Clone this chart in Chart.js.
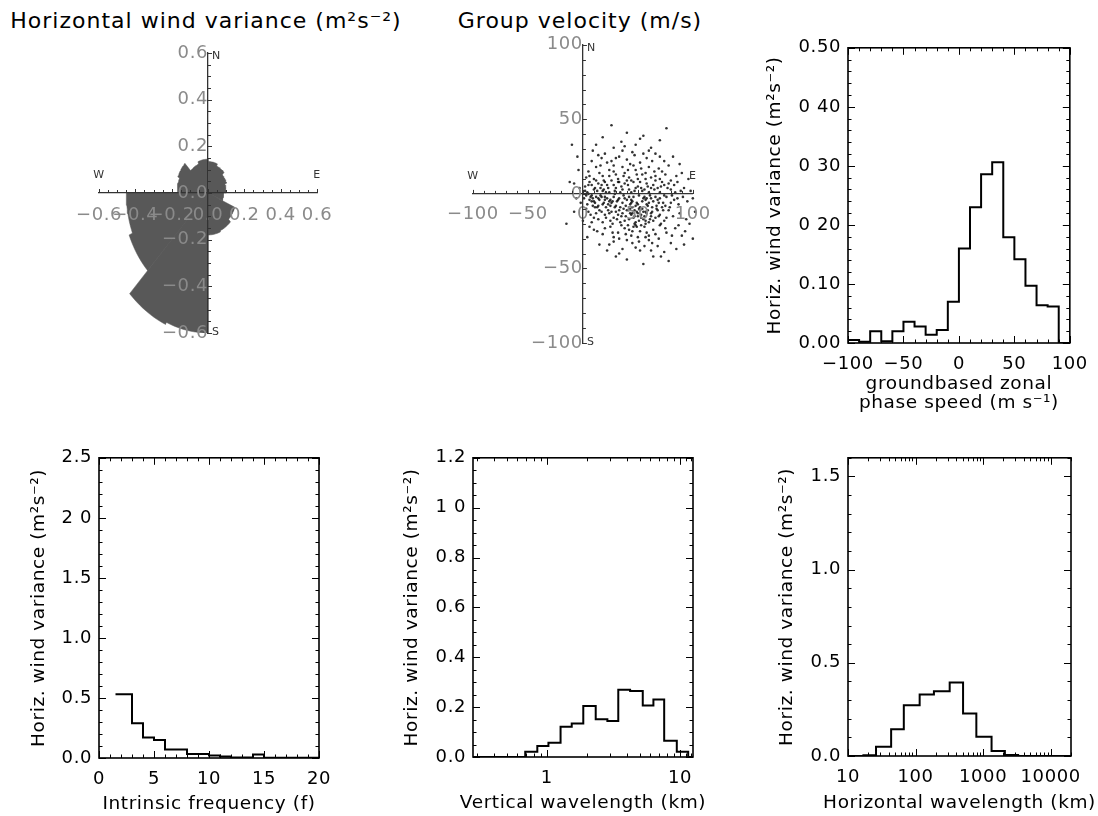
<!DOCTYPE html>
<html>
<head>
<meta charset="utf-8">
<script src="https://cdn.jsdelivr.net/npm/chart.js@4.4.1/dist/chart.umd.min.js"></script>
<style>
  body { margin: 0; background: #fff; }
  #page { position: relative; width: 1098px; height: 816px; overflow: hidden; font-family: 'DejaVu Sans', sans-serif; }
  .panel { position: absolute; }
  .title { position: absolute; font-size: 22px; letter-spacing: 1px; white-space: nowrap; transform: translate(-50%, -50%); color: #000; }
</style>
</head>
<body>
<div id="page">
  <div class="title" style="left:206px;top:20px">Horizontal wind variance (m²s⁻²)</div>
  <div class="title" style="left:580px;top:20px">Group velocity (m/s)</div>
  <div class="panel" style="left:0;top:30px;width:370px;height:330px"><canvas id="rose"></canvas></div>
  <div class="panel" style="left:370px;top:30px;width:350px;height:330px"><canvas id="groupVel"></canvas></div>
  <div class="panel" style="left:720px;top:30px;width:378px;height:400px"><canvas id="phase"></canvas></div>
  <div class="panel" style="left:0;top:440px;width:370px;height:376px"><canvas id="freq"></canvas></div>
  <div class="panel" style="left:370px;top:440px;width:370px;height:376px"><canvas id="vertWl"></canvas></div>
  <div class="panel" style="left:730px;top:440px;width:368px;height:376px"><canvas id="horWl"></canvas></div>
</div>
<script>
// --- horizontal wind variance by direction (sector start bearing, clockwise from N)
const roseStart = [0, 22.5, 45, 67.5, 90, 112.5, 135, 157.5, 180, 202.5, 225, 247.5, 270, 292.5, 315, 337.5];
const roseVariance = [0.135, 0.125, 0.11, 0.10, 0.085, 0.16, 0.175, 0.18, 0.60, 0.61, 0.47, 0.45, 0.17, 0.18, 0.135, 0.145];
const roseTicks = [-0.6, -0.4, -0.2, 0, 0.2, 0.4, 0.6];
const roseLabels = ['\u22120.6', '\u22120.4', '\u22120.2', '0.0', '0.2', '0.4', '0.6'];

// --- group velocity, [east, north] m/s
const groupVel = [
  [26,46],[76,44],[40,41],[18,38],[55,39],[-10,33],[35,35],[48,33],[62,31],[28,31],[70,36],[12,33],[52,37],
  [20,27],[33,25],[45,28],[58,24],[66,27],[8,22],[26,22],[40,23],[52,21],[74,22],[14,26],[82,25],[60,29],[36,29],
  [5,15],[12,18],[18,12],[24,16],[30,13],[36,18],[42,11],[48,16],[54,13],[60,18],[66,12],[72,15],[78,19],[85,12],
  [3,11],[16,19],[28,19],[38,14],[46,19],[57,10],[69,17],[90,14],[-4,16],[32,10],[50,10],
  [2,5],[6,8],[10,3],[14,7],[18,2],[22,6],[26,9],[30,4],[34,1],[38,7],[42,3],[46,8],[50,5],[54,2],[58,7],[62,4],
  [66,9],[70,1],[74,6],[80,3],[86,8],[92,4],[98,2],[4,1],[8,6],[12,9],[16,4],[20,8],[24,1],[28,6],[32,8],[36,3],
  [40,9],[44,1],[48,4],[52,8],[56,3],[60,1],[64,6],[68,4],[72,8],[78,7],[84,1],[-3,4],[-8,7],[104,3],
  [1,-3],[4,-7],[7,-2],[10,-5],[13,-9],[16,-1],[19,-6],[22,-3],[25,-8],[28,-2],[31,-5],[34,-9],[37,-1],[40,-4],
  [43,-7],[46,-2],[49,-6],[52,-9],[55,-3],[58,-7],[61,-1],[64,-5],[67,-8],[70,-3],[73,-6],[76,-2],[79,-9],[83,-4],
  [87,-7],[91,-2],[95,-5],[3,-1],[9,-8],[15,-4],[21,-9],[27,-5],[33,-3],[39,-8],[45,-5],[51,-1],[57,-4],[63,-9],
  [69,-6],[75,-8],[81,-1],[-2,-6],[6,-4],[12,-2],[18,-7],[24,-5],[30,-8],[36,-6],[42,-2],[48,-8],[54,-5],[60,-6],
  [66,-2],[72,-9],[100,-3],
  [5,-12],[10,-16],[15,-11],[20,-14],[25,-18],[30,-12],[35,-15],[40,-11],[42,-17],[45,-13],[48,-19],[50,-15],
  [52,-11],[55,-17],[58,-13],[60,-19],[63,-12],[66,-16],[70,-14],[74,-18],[78,-11],[82,-15],[88,-13],[94,-17],
  [8,-19],[18,-19],[28,-16],[38,-18],[44,-14],[47,-11],[53,-14],[57,-18],[62,-15],[68,-11],[33,-11],[12,-13],[23,-11],
  [46,-16],[49,-12],[51,-18],[54,-10],[56,-15],[59,-11],[61,-17],[43,-10],[47,-20],[53,-21],[57,-12],[50,-13],
  [44,-6],[58,-3],[26,-12],[20,-4],[14,-8],[8,-1],[31,-17],[36,-13],
  [5,0],[9,-3],[13,2],[17,-2],[21,1],[25,-4],[29,0],[11,-6],[19,3],[23,-7],
  [10,-24],[18,-27],[25,-22],[32,-26],[38,-23],[44,-28],[48,-21],[52,-25],[56,-22],[60,-28],[64,-24],[70,-21],
  [76,-26],[84,-23],[90,-28],[4,-29],[42,-24],[50,-29],[58,-26],[46,-22],[66,-27],[28,-29],[35,-21],
  [15,-34],[28,-32],[36,-37],[45,-33],[52,-38],[60,-31],[68,-35],[80,-33],[40,-31],[56,-35],[22,-38],[74,-39],
  [40,-44],[55,-47],[78,-45],[30,-42],[64,-42],
  [120,-1],[-15,-20],[100,-30],[-5,25],
  [3,-10],[7,-14],[11,-9],[14,-17],[17,-12],[21,-16],[24,-13],[27,-20],[29,-9],[32,-14],[34,-19],[37,-10],
  [39,-15],[41,-21],[43,-13],[45,-9],[47,-15],[49,-22],[51,-10],[53,-16],[55,-12],[57,-20],[59,-8],[62,-13],
  [64,-18],[67,-10],[69,-15],[71,-20],[73,-11],[76,-16],
  [2,2],[5,6],[8,-5],[11,4],[14,-3],[17,6],[20,-2],[23,4],[26,-6],[29,2],[32,-4],[35,5],[38,-3],[41,6],[44,-4],
  [47,2],[50,-7],[53,4],[56,-2],[59,5],[62,-3],[65,3],[68,-4],[71,5],[74,-1],[77,4],[80,-6],[83,6],[86,-3],[89,2],
  [6,12],[10,10],[15,14],[19,9],[24,12],[28,15],[33,8],[37,12],[41,16],[44,9],[49,13],[53,17],[57,14],[62,11],
  [65,15],[70,10],[75,13],[80,9],[22,21],[30,24],[43,20],[55,27],[63,22],[70,25],[38,32],[47,26],[17,24],[9,29],
  [0,-18],[6,-22],[13,-25],[20,-23],[27,-26],[33,-30],[39,-27],[45,-25],[51,-32],[57,-29],[63,-33],[69,-30],
  [75,-23],[81,-28],[87,-21],[93,-25],[24,-34],[48,-36],[62,-38],[71,-42],[33,-40],[85,-37],
  [-6,-3],[-12,8],[-8,-12],[96,10],[102,-12],[97,-20],[88,20],[92,-34]
];
const gvTicks = [-100, -50, 0, 50, 100];
const gvLabels = ['\u2212100', '\u221250', '0', '50', '100'];

// --- groundbased zonal phase speed histogram (bin edges, variance per bin)
const phaseEdges = [-100, -90, -80, -70, -60, -50, -40, -30, -20, -10, 0, 10, 20, 30, 40, 50, 60, 70, 80, 90, 100];
const phaseVar = [0.005, 0.002, 0.02, 0.003, 0.02, 0.036, 0.028, 0.014, 0.022, 0.07, 0.16, 0.23, 0.286, 0.306, 0.179, 0.142, 0.097, 0.064, 0.062, 0];
const phaseXTicks = [-100, -50, 0, 50, 100];
const phaseXLabels = ['\u2212100', '\u221250', '0', '50', '100'];
const phaseYTicks = [0, 0.1, 0.2, 0.3, 0.4, 0.5];
const phaseYLabels = ['0.00', '0.10', '0 20', '0 30', '0 40', '0.50'];

// --- intrinsic frequency histogram
const freqEdges = [1.5, 3, 4, 5, 6, 8, 10, 11, 12, 14, 15, 20];
const freqVar = [0.53, 0.29, 0.17, 0.15, 0.07, 0.033, 0.02, 0.012, 0.004, 0.03, 0.002];
const freqXTicks = [0, 5, 10, 15, 20];
const freqXLabels = ['0', '5', '10', '15', '20'];
const freqYTicks = [0, 0.5, 1, 1.5, 2, 2.5];
const freqYLabels = ['0.0', '0.5', '1.0', '1.5', '2 0', '2.5'];

// --- vertical wavelength histogram (km)
const vwEdges = [0.28, 0.69, 0.85, 1.03, 1.27, 1.54, 1.88, 2.33, 2.85, 3.44, 4.22, 5.25, 6.31, 7.6, 9.45, 11.5, 12.5];
const vwVar = [0, 0.021, 0.044, 0.057, 0.121, 0.134, 0.205, 0.151, 0.144, 0.27, 0.265, 0.207, 0.231, 0.065, 0.021, 0];
const vwXTicks = [1, 10];
const vwXLabels = ['1', '10'];
const vwYTicks = [0, 0.2, 0.4, 0.6, 0.8, 1.0, 1.2];
const vwYLabels = ['0.0', '0.2', '0.4', '0.6', '0.8', '1 0', '1.2'];

// --- horizontal wavelength histogram (km)
const hwEdges = [10, 16.9, 26, 43.5, 67, 115, 187, 320, 505, 794, 1334, 2100, 3300, 20000];
const hwVar = [0, 0.004, 0.05, 0.144, 0.272, 0.33, 0.348, 0.395, 0.228, 0.103, 0.027, 0.005, 0];
const hwXTicks = [10, 100, 1000, 10000];
const hwXLabels = ['10', '100', '1000', '10000'];
const hwYTicks = [0, 0.5, 1.0, 1.5];
const hwYLabels = ['0.0', '0.5', '1.0', '1.5'];

const varTitle = 'Horiz. wind variance (m\u00b2s\u207b\u00b2)';

Chart.defaults.font.family = "'DejaVu Sans', sans-serif";
Chart.defaults.color = '#000';
Chart.defaults.animation = false;

function steps(a, b, d) {
  const out = [];
  for (let v = a; v <= b + d / 1000; v += d) out.push(Math.round(v / d) * d);
  return out;
}
function logMinor(lo, hi) {
  const out = [];
  for (let p = lo; p < hi; p *= 10) for (let m = 2; m <= 9; m++) out.push(p * m);
  return out;
}

// IDL style tick marks: inward on all four sides ('box') or on the centre axes ('cross')
const idlTicks = {
  id: 'idlTicks',
  beforeDraw(chart) {
    chart.ctx.letterSpacing = '0.6px';
  },
  afterDraw(chart, args, o) {
    if (!o.mode) return;
    const {ctx, chartArea: a, scales: {x, y}} = chart;
    ctx.save();
    ctx.strokeStyle = o.color || '#000';
    ctx.lineWidth = 1;
    const inX = v => v >= x.min - 1e-9 && v <= x.max + 1e-9;
    const inY = v => v >= y.min - 1e-9 && v <= y.max + 1e-9;
    ctx.beginPath();
    if (o.mode === 'box') {
      [[o.xMajor, o.major], [o.xMinor, o.minor]].forEach(([vals, len]) => vals.filter(inX).forEach(v => {
        const px = Math.round(x.getPixelForValue(v)) + 0.5;
        ctx.moveTo(px, a.bottom); ctx.lineTo(px, a.bottom - len);
        ctx.moveTo(px, a.top); ctx.lineTo(px, a.top + len);
      }));
      [[o.yMajor, o.major], [o.yMinor, o.minor]].forEach(([vals, len]) => vals.filter(inY).forEach(v => {
        const py = Math.round(y.getPixelForValue(v)) + 0.5;
        ctx.moveTo(a.left, py); ctx.lineTo(a.left + len, py);
        ctx.moveTo(a.right, py); ctx.lineTo(a.right - len, py);
      }));
      ctx.stroke();
      ctx.lineWidth = 1.6;
      ctx.strokeRect(a.left, a.top, a.right - a.left, a.bottom - a.top);
      // x title, allowed to run wider than the plot box
      const lines = [].concat(o.xTitle);
      ctx.fillStyle = '#000';
      ctx.font = "18.5px 'DejaVu Sans'";
      ctx.textAlign = 'center';
      ctx.textBaseline = 'middle';
      lines.forEach((t, i) => {
        ctx.fillText(t, (a.left + a.right) / 2, o.xTitleY - (lines.length - 1 - i) * 18.5);
      });
    } else {
      const x0 = x.getPixelForValue(0), y0 = y.getPixelForValue(0);
      [[o.xMajor, o.major], [o.xMinor, o.minor]].forEach(([vals, len]) => vals.filter(inX).forEach(v => {
        const px = Math.round(x.getPixelForValue(v)) + 0.5;
        ctx.moveTo(px, y0); ctx.lineTo(px, y0 - len);
      }));
      [[o.yMajor, o.major], [o.yMinor, o.minor]].forEach(([vals, len]) => vals.filter(inY).forEach(v => {
        const py = Math.round(y.getPixelForValue(v)) + 0.5;
        ctx.moveTo(x0, py); ctx.lineTo(x0 + len, py);
      }));
      ctx.stroke();
      ctx.fillStyle = '#333';
      ctx.font = "11px 'DejaVu Sans'";
      ctx.textBaseline = 'middle';
      ctx.textAlign = 'left';
      ctx.fillText('N', x0 + 4, a.top + 3);
      ctx.fillText('S', x0 + 4, a.bottom - 1);
      ctx.textAlign = 'center';
      ctx.fillText('W', a.left, y0 - 18);
      ctx.fillText('E', a.right, y0 - 18);
    }
    ctx.restore();
  }
};
Chart.register(idlTicks);

function centreAxis(min, max, pos, ticks, labels, pad) {
  return {
    type: 'linear', min: min, max: max, position: pos,
    afterBuildTicks: s => { s.ticks = ticks.map(v => ({value: v})); },
    ticks: { color: '#8a8a8a', font: {size: 18}, padding: pad, autoSkip: false, maxRotation: 0, z: 1,
             callback: (v, i) => labels[i] },
    grid: { display: false, drawTicks: false },
    border: { display: true, color: '#333', width: 1.3, z: 1 }
  };
}

// rose: sectors turned into a closed outline on the x/y scales
const sectorWidth = 360 / roseStart.length;
const rosePts = [];
roseStart.forEach((a0, k) => {
  const r = roseVariance[k];
  rosePts.push({x: 0, y: 0});
  for (let i = 0; i <= 10; i++) {
    const t = (a0 + sectorWidth * i / 10) * Math.PI / 180;
    rosePts.push({x: r * Math.sin(t), y: r * Math.cos(t)});
  }
});
rosePts.push({x: 0, y: 0});

new Chart(document.getElementById('rose'), {
  type: 'scatter',
  data: { datasets: [{ data: rosePts, showLine: true, fill: 'shape', backgroundColor: '#585858',
                       borderColor: '#585858', borderWidth: 0.5, pointRadius: 0 }] },
  options: {
    responsive: true, maintainAspectRatio: false,
    layout: { padding: {left: 99, right: 53, top: 23, bottom: 27} },
    plugins: { legend: {display: false}, tooltip: {enabled: false},
      idlTicks: { mode: 'cross', color: '#333', major: 4, minor: 3,
        xMajor: roseTicks, xMinor: steps(-0.6, 0.6, 0.05), yMajor: roseTicks, yMinor: steps(-0.6, 0.6, 0.05) } },
    scales: {
      x: centreAxis(-0.6, 0.6, {y: 0}, roseTicks, roseLabels, 12),
      y: centreAxis(-0.6, 0.6, {x: 0}, roseTicks, roseLabels, 6)
    }
  }
});

new Chart(document.getElementById('groupVel'), {
  type: 'scatter',
  data: { datasets: [{ data: groupVel.map(p => ({x: p[0], y: p[1]})), pointRadius: 1.3, borderWidth: 0,
                       backgroundColor: 'rgba(0,0,0,0.8)', clip: false }] },
  options: {
    responsive: true, maintainAspectRatio: false,
    layout: { padding: {left: 103, right: 27, top: 13, bottom: 17} },
    plugins: { legend: {display: false}, tooltip: {enabled: false},
      idlTicks: { mode: 'cross', color: '#333', major: 4, minor: 3,
        xMajor: gvTicks, xMinor: steps(-100, 100, 10), yMajor: gvTicks, yMinor: steps(-100, 100, 10) } },
    scales: {
      x: centreAxis(-100, 100, {y: 0}, gvTicks, gvLabels, 10),
      y: centreAxis(-100, 100, {x: 0}, gvTicks, gvLabels, 4)
    }
  }
});

function histChart(id, edges, values, o) {
  const pts = edges.map((e, i) => ({x: e, y: values[Math.min(i, values.length - 1)]}));
  return new Chart(document.getElementById(id), {
    type: 'scatter',
    data: { datasets: [{ data: pts, showLine: true, stepped: true, borderColor: '#000', borderWidth: 2,
                         pointRadius: 0, fill: false }] },
    options: {
      responsive: true, maintainAspectRatio: false,
      layout: { padding: o.pad },
      plugins: { legend: {display: false}, tooltip: {enabled: false},
        idlTicks: { mode: 'box', major: 7, minor: 3.5,
          xMajor: o.xTicks, xMinor: o.xMinor, yMajor: o.yTicks, yMinor: o.yMinor,
          xTitle: o.xTitle, xTitleY: o.xTitleY } },
      scales: {
        x: {
          type: o.xType, min: o.xMin, max: o.xMax,
          afterBuildTicks: s => { s.ticks = o.xTicks.map(v => ({value: v})); },
          ticks: { font: {size: 18}, padding: 11, autoSkip: false, maxRotation: 0, callback: (v, i) => o.xLabels[i] },
          grid: { display: false, drawTicks: false },
          border: { display: false },
          afterFit: s => { s.height = o.xH; }
        },
        y: {
          type: 'linear', min: 0, max: o.yMax,
          afterBuildTicks: s => { s.ticks = o.yTicks.map(v => ({value: v})); },
          ticks: { font: {size: 18}, padding: 7, autoSkip: false, callback: (v, i) => o.yLabels[i] },
          grid: { display: false, drawTicks: false },
          border: { display: false },
          title: { display: true, text: varTitle, font: {size: 18.5, lineHeight: 1.0}, padding: {top: o.yTitlePad, bottom: 0} },
          afterFit: s => { s.width = o.yW; }
        }
      }
    }
  });
}

histChart('phase', phaseEdges, phaseVar, {
  pad: {left: 0, top: 15, right: 28, bottom: 0}, xH: 87, yW: 128,
  xType: 'linear', xMin: -100, xMax: 100, yMax: 0.5,
  xTicks: phaseXTicks, xLabels: phaseXLabels, xMinor: steps(-100, 100, 10),
  yTicks: phaseYTicks, yLabels: phaseYLabels, yMinor: steps(0, 0.5, 0.02),
  xTitle: ['groundbased zonal', 'phase speed (m s\u207b\u00b9)'], xTitleY: 373, yTitlePad: 45.5
});

histChart('freq', freqEdges, freqVar, {
  pad: {left: 0, top: 17, right: 51, bottom: 0}, xH: 58, yW: 99,
  xType: 'linear', xMin: 0, xMax: 20, yMax: 2.5,
  xTicks: freqXTicks, xLabels: freqXLabels, xMinor: steps(0, 20, 1),
  yTicks: freqYTicks, yLabels: freqYLabels, yMinor: steps(0, 2.5, 0.1),
  xTitle: 'Intrinsic frequency (f)', xTitleY: 364, yTitlePad: 30
});

histChart('vertWl', vwEdges, vwVar, {
  pad: {left: 0, top: 16, right: 47, bottom: 0}, xH: 59, yW: 103,
  xType: 'logarithmic', xMin: 0.28, xMax: 12.5, yMax: 1.2,
  xTicks: vwXTicks, xLabels: vwXLabels, xMinor: logMinor(0.1, 10).concat([11, 12]),
  yTicks: vwYTicks, yLabels: vwYLabels, yMinor: steps(0, 1.2, 0.05),
  xTitle: 'Vertical wavelength (km)', xTitleY: 363, yTitlePad: 33
});

histChart('horWl', hwEdges, hwVar, {
  pad: {left: 0, top: 16, right: 27, bottom: 0}, xH: 60, yW: 118,
  xType: 'logarithmic', xMin: 10, xMax: 20000, yMax: 1.6,
  xTicks: hwXTicks, xLabels: hwXLabels, xMinor: logMinor(10, 10000).concat([20000]),
  yTicks: hwYTicks, yLabels: hwYLabels, yMinor: steps(0, 1.6, 0.1),
  xTitle: 'Horizontal wavelength (km)', xTitleY: 363, yTitlePad: 48
});
</script>
</body>
</html>
